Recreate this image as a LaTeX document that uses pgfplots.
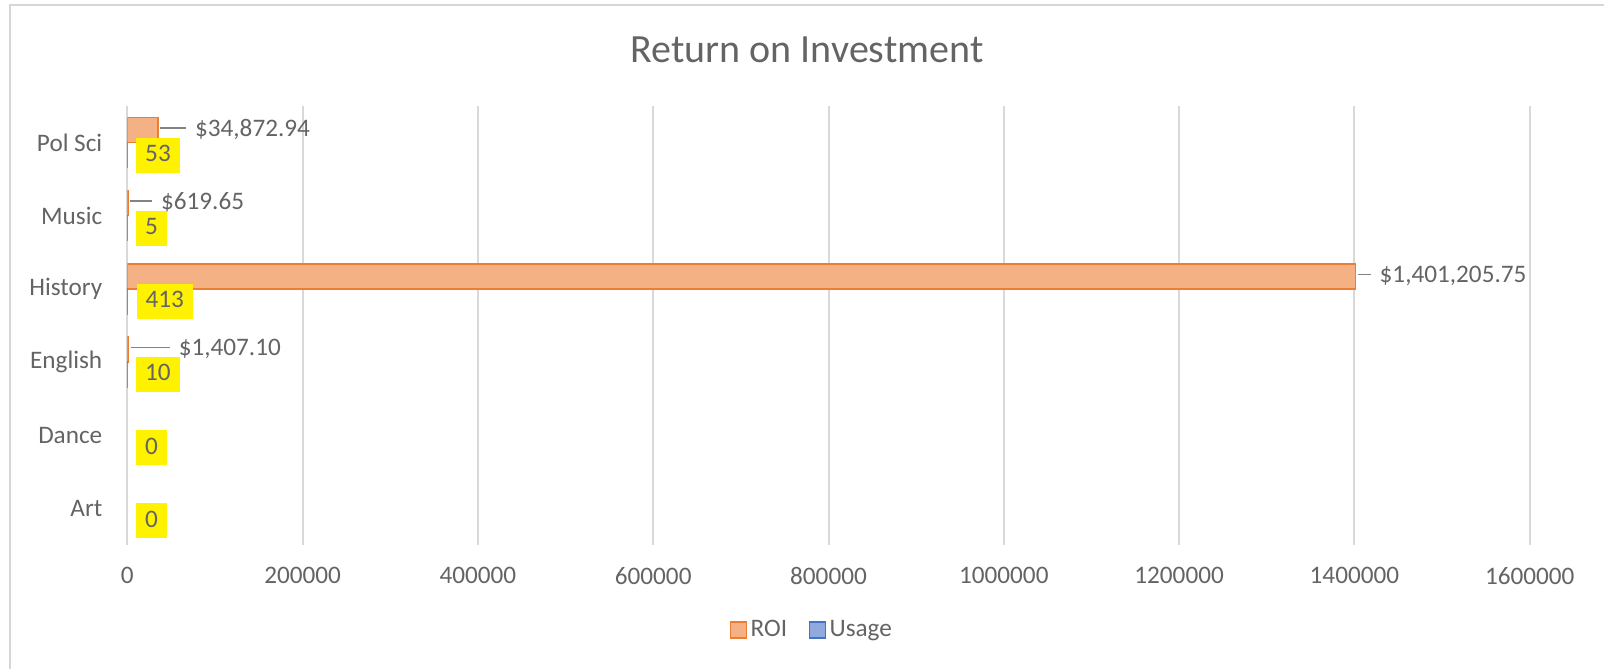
\documentclass[border=0pt]{standalone}
\usepackage{pgfplots}
\pgfplotsset{compat=1.18}
\usepackage{fontspec}
\setmainfont{Carlito}

\definecolor{txt}{HTML}{646464}
\definecolor{gridc}{HTML}{D9D9D9}
\definecolor{roifill}{HTML}{F4B183}
\definecolor{roiline}{HTML}{ED7D31}
\definecolor{usefill}{HTML}{8FAADC}
\definecolor{useline}{HTML}{4472C4}
\definecolor{framec}{HTML}{D6D6D6}

% leader line in front of a data label
\NewDocumentCommand\ldr{m}{\textcolor{txt!80}{\rule[0.3em]{#1bp}{0.8bp}}\hspace{4.5bp}}
\newcommand\lblfont{\fontsize{12.6bp}{15bp}\selectfont}
\pgfplotsset{sqlegend/.style={legend image code/.code={\draw[##1] (0bp,-4bp) rectangle (8bp,4bp);}}}

\begin{document}
\begin{tikzpicture}
\path[use as bounding box] (0bp,0bp) rectangle (802bp,334.5bp);
\draw[framec, line width=1bp] (5bp,0bp) -- (5bp,332bp) -- (802bp,332bp);
\begin{axis}[
    at={(63.65bp,62bp)}, anchor=south west,
    scale only axis, width=701.2bp, height=219.5bp,
    xbar, bar width=12.5bp,
    xmin=0, xmax=1600000, ymin=-0.5, ymax=5.5,
    xtick={0,200000,400000,600000,800000,1000000,1200000,1400000,1600000},
    ytick={0,1,2,3,4,5},
    yticklabels={Art,Dance,English,History,Music,Pol Sci},
    scaled x ticks=false,
    /pgf/number format/assume math mode=true,
    xticklabel style={/pgf/number format/fixed, /pgf/number format/1000 sep={}, yshift=-7.5bp},
    yticklabel style={xshift=-9bp},
    tick label style={font=\lblfont, text=txt},
    major tick length=0pt,
    axis line style={draw=none},
    xmajorgrids, grid style={gridc, line width=1bp},
    every axis title shift=0pt,
    title={Return on Investment},
    title style={at={(0.4847,1.098)}, anchor=base, font=\fontsize{20bp}{24bp}\selectfont, text=txt},
    legend style={at={(0.4886,-0.1936)}, anchor=center, draw=none, fill=none,
        legend columns=2, font=\lblfont, text=txt,
        nodes={inner sep=1.75bp},
        /tikz/every even column/.style={column sep=9bp}},
]
\addplot[fill=roifill, draw=roiline, line width=0.75bp, bar shift=6.25bp, sqlegend,
    point meta=explicit symbolic,
    nodes near coords={\pgfplotspointmeta},
    nodes near coords style={anchor=west, inner sep=0pt, xshift=0.75bp,
        font=\lblfont, text=txt, text height=0.63em, text depth=0pt}]
    coordinates {(1407.10,2) [\ldr{19.5}\$1,407.10]
                 (1401205.75,3) [\ldr{6.5}\$1,401,205.75]
                 (619.65,4) [\ldr{11}\$619.65]
                 (34872.94,5) [\ldr{13}\$34,872.94]};
\addplot[fill=usefill, draw=useline, line width=0.75bp, bar shift=-6.25bp, sqlegend]
    coordinates {(10,2) (413,3) (5,4) (53,5)};
\addplot[draw=none, fill=none, bar shift=-6.25bp, forget plot,
    point meta=x,
    nodes near coords,
    nodes near coords style={anchor=west, xshift=4.35bp, fill=yellow,
        inner xsep=4.4bp, inner ysep=5.6bp, text height=0.63em, text depth=0pt,
        font=\lblfont, text=txt, /pgf/number format/int detect}]
    coordinates {(0,0) (0,1) (10,2) (413,3) (5,4) (53,5)};
\legend{ROI, Usage}
\end{axis}
\end{tikzpicture}
\end{document}
